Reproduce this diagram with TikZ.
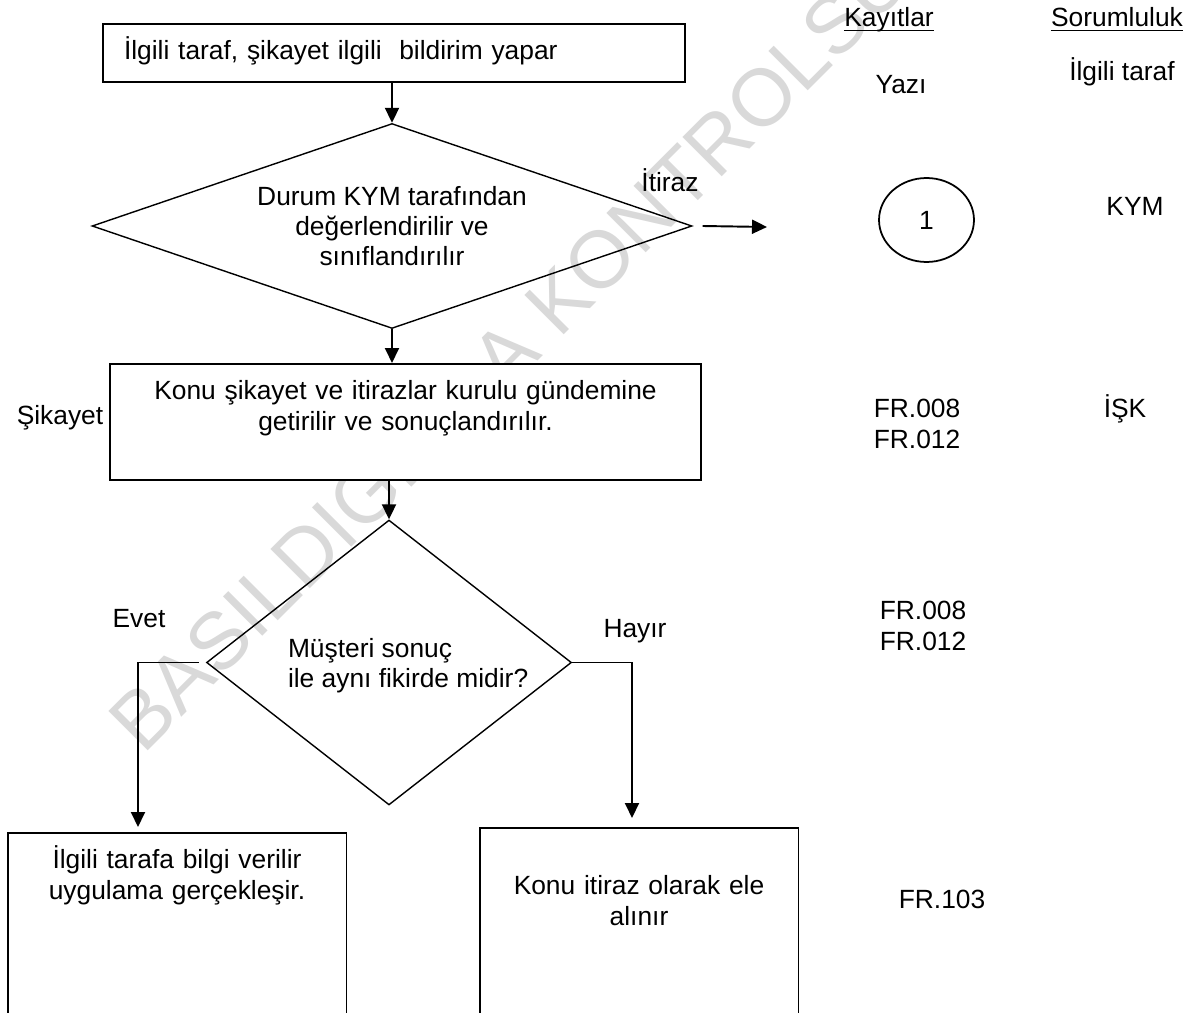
\documentclass[tikz,border=0pt]{standalone}
\usepackage{fontspec}
\setmainfont{Liberation Sans}
\usetikzlibrary{shapes.geometric,arrows.meta}

\begin{document}
\begin{tikzpicture}[
    x=0.02cm, y=-0.02cm,
    font=\fontsize{15}{17.3}\selectfont,
    box/.style={rectangle, draw, fill=white, line width=1.1pt, anchor=north, align=center, inner xsep=0.2cm, inner ysep=0.38cm, text height=0.34cm},
    dec/.style={diamond, draw, line width=0.8pt, inner sep=0pt},
    arrow/.style={-{Triangle[length=0.3cm,width=0.28cm]}, line width=1.1pt},
    txt/.style={inner sep=0pt, anchor=base, align=center},
    wmark/.style={inner sep=0pt, anchor=base west, rotate=45, text=black!15, font=\fontsize{46}{52}\selectfont}
]
\useasboundingbox (0,0) rectangle (1189,1013);
\clip (0,0) rectangle (1189,1013);

\node[wmark] (wm) at (143,756) {BASILDIĞINDA KONTROLSÜZ};

\node[box, text width=10.8cm, inner xsep=0.42cm, align=left, inner ysep=0.3cm, text height=0.42cm, text depth=0.14cm] (b1) at (394,23) {İlgili taraf, şikayet ilgili~ bildirim yapar};
\node[dec, shape aspect=2.93, minimum width=12cm, minimum height=4.1cm, align=center] (d1) at (392,226) {Durum KYM tarafından\\değerlendirilir ve\\sınıflandırılır};
\node[box, text width=11.42cm, text depth=1.22cm] (b2) at (405.5,363) {Konu şikayet ve itirazlar kurulu gündemine\\getirilir ve sonuçlandırılır.};
\node[dec, shape aspect=1.28, minimum width=7.3cm, minimum height=5.7cm, text height=0.5cm, text depth=0.7cm] (d2) at (389,662.5) {\hspace*{0.81cm}\parbox[t]{4.85cm}{Müşteri sonuç\\ile aynı fikirde midir?}};
\node[box, text width=6.38cm, text depth=3cm] (b3) at (177,832) {İlgili tarafa bilgi verilir\\uygulama gerçekleşir.};
\node[box, text width=5.98cm, text height=0.96cm, text depth=2.6cm] (b4) at (639,827) {Konu itiraz olarak ele\\alınır};
\node[draw, ellipse, line width=1pt, minimum width=1.9cm, minimum height=1.68cm] (c1) at (926.5,220) {1};

\node[txt] (itiraz) at (670,192) {İtiraz};
\node[txt] (sikayet) at (60,424) {Şikayet};
\node[txt] (evet) at (139,627) {Evet};
\node[txt] (hayir) at (635,637) {Hayır};

\node[txt] (kayit) at (889,27) {Kayıtlar};
\node[txt] (sorum) at (1117,27) {Sorumluluk};
\draw[line width=0.8pt] ([yshift=-2pt]kayit.base west) -- ([yshift=-2pt]kayit.base east);
\draw[line width=0.8pt] ([yshift=-2pt]sorum.base west) -- ([yshift=-2pt]sorum.base east);
\node[txt] (yazi) at (901,94) {Yazı};
\node[txt] (ilgili) at (1122,81) {İlgili taraf};
\node[txt] (kym) at (1135,216) {KYM};
\node[txt] (fr1) at (917,448) {FR.008\\FR.012};
\node[txt] (isk) at (1125,417) {İŞK};
\node[txt] (fr2) at (923,650) {FR.008\\FR.012};
\node[txt] (fr3) at (942,908) {FR.103};

\coordinate (itz) at (767,227);
\coordinate (evt) at (138,827);
\coordinate (hyr) at (632,818);

\draw[arrow] (d1.north |- b1.south) -- (d1.north);
\draw[arrow] ([xshift=0.2cm]d1.east) -- (itz);
\draw[arrow] (d1.south) -- (d1.south |- b2.north);
\draw[arrow] (d2.north |- b2.south) -- (d2.north);
\draw[arrow] ([xshift=-0.14cm]d2.west) -| (evt);
\draw[arrow] (d2.east) -| (hyr);
\end{tikzpicture}
\end{document}
